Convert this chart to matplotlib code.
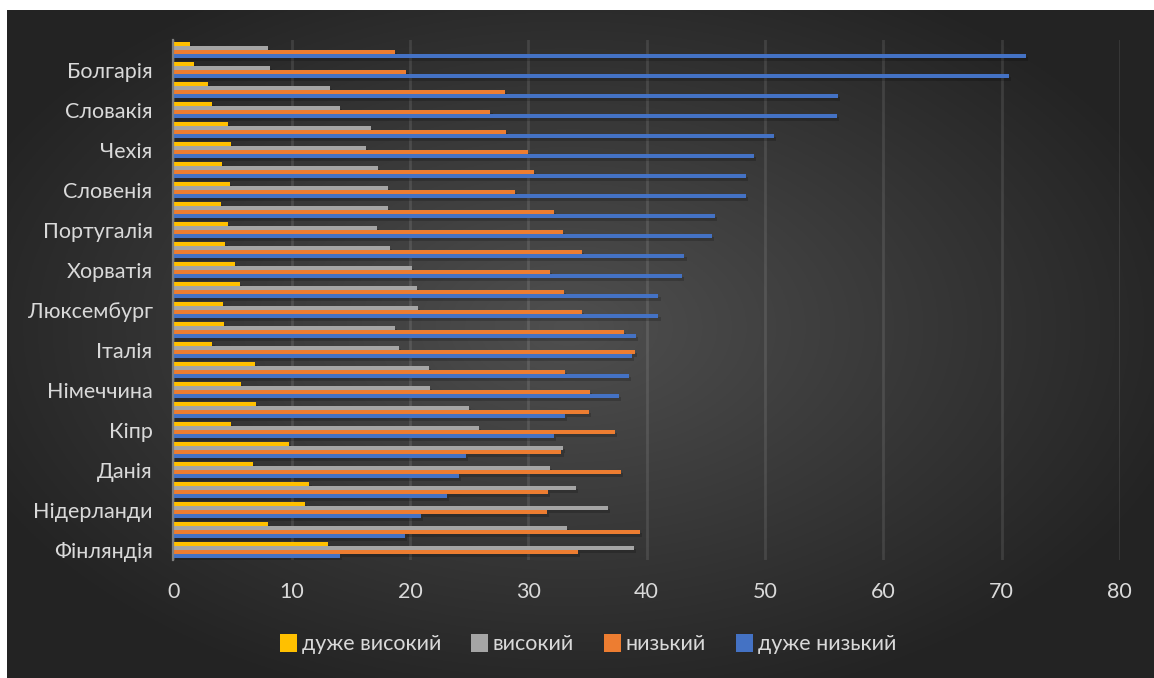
import numpy as np
import matplotlib.pyplot as plt
import matplotlib.patheffects as pe
from matplotlib.patches import Patch

plt.rcParams['font.family'] = ['Lato', 'DejaVu Sans']

# countries from bottom to top of the chart
countries = ['Фінляндія', 'Швеція', 'Нідерланди', 'Естонія', 'Данія', 'Бельгія',
             'Кіпр', 'Австрія', 'Німеччина', 'Франція', 'Італія', 'Мальта',
             'Люксембург', 'Іспанія', 'Хорватія', 'Литва', 'Португалія', 'Латвія',
             'Словенія', 'Польща', 'Чехія', 'Угорщина', 'Словакія', 'Греція',
             'Болгарія', 'Румунія']

very_high = [13.1, 8.0, 11.1, 11.5, 6.7, 9.8, 4.9, 7.0, 5.7, 6.9, 3.3, 4.3,
             4.2, 5.6, 5.2, 4.4, 4.6, 4.0, 4.8, 4.1, 4.9, 4.6, 3.3, 2.9, 1.7, 1.4]
high = [38.9, 33.3, 36.7, 34.0, 31.8, 32.9, 25.8, 25.0, 21.7, 21.6, 19.1, 18.7,
        20.7, 20.6, 20.2, 18.3, 17.2, 18.1, 18.1, 17.3, 16.3, 16.7, 14.1, 13.2, 8.2, 8.0]
low = [34.2, 39.4, 31.6, 31.7, 37.8, 32.8, 37.3, 35.1, 35.2, 33.1, 39.0, 38.1,
       34.5, 33.0, 31.8, 34.5, 32.9, 32.2, 28.9, 30.5, 30.0, 28.1, 26.8, 28.0, 19.7, 18.7]
very_low = [14.1, 19.6, 20.9, 23.1, 24.1, 24.7, 32.2, 33.1, 37.7, 38.5, 38.8, 39.1,
            41.0, 41.0, 43.0, 43.2, 45.5, 45.8, 48.4, 48.4, 49.1, 50.8, 56.1, 56.2, 70.6, 72.1]

series_names = ['дуже високий', 'високий', 'низький', 'дуже низький']
colors = ['#FFC000', '#A5A5A5', '#ED7D31', '#4472C4']

fig = plt.figure(figsize=(11.54, 6.78), dpi=100)
fig.patch.set_facecolor('white')

# dark background with a soft radial glow in the middle
bg = fig.add_axes([7 / 1154, 0, 1 - 7 / 1154, 1 - 10 / 678])
gx, gy = np.meshgrid(np.linspace(-1, 1, 600), np.linspace(-1, 1, 400))
r = np.sqrt(((gx + 0.02) / 1.05) ** 2 + ((gy + 0.05) / 1.1) ** 2)
shade = np.clip(0.31 - 0.16 * r, 0.14, 0.31)
bg.imshow(np.dstack([shade] * 3), aspect='auto', extent=[0, 1, 0, 1])
bg.axis('off')

ax = fig.add_axes([173.4 / 1154, 118 / 678, 946.4 / 1154, 520 / 678])
ax.set_facecolor('none')

y = np.arange(len(countries))
h = 0.2
offsets = [0.3, 0.1, -0.1, -0.3]
shadow = [pe.SimplePatchShadow(offset=(1.5, -2), shadow_rgbFace='black', alpha=0.18), pe.Normal()]

for vals, off, col, name in zip([very_high, high, low, very_low], offsets, colors, series_names):
    bars = ax.barh(y + off, vals, height=h, color=col, label=name, zorder=3)
    for b in bars:
        b.set_path_effects(shadow)

ax.set_xlim(0, 80)
ax.set_ylim(-0.5, len(countries) - 0.5)
ax.set_xticks(range(0, 81, 10))
ax.set_yticks(y[::2])
ax.set_yticklabels(countries[::2])

ax.grid(axis='x', color='white', alpha=0.1, linewidth=2, zorder=0)
ax.set_axisbelow(True)
for s in ['top', 'right', 'bottom']:
    ax.spines[s].set_visible(False)
ax.spines['left'].set_color('#7f7f7f')
ax.spines['left'].set_linewidth(1.6)
ax.spines['left'].set_zorder(4)
ax.tick_params(length=0, colors='#d9d9d9', labelsize=15.5)
ax.tick_params(axis='y', pad=15)
ax.tick_params(axis='x', pad=16)

handles = [Patch(facecolor=c, edgecolor='none') for c in colors]
fig.legend(handles, series_names, loc='center', bbox_to_anchor=(588 / 1154, 1 - 644 / 678),
           ncol=4, frameon=False, fontsize=15.5, labelcolor='#d9d9d9',
           handlelength=0.8, handleheight=0.9, handletextpad=0.2, columnspacing=1.4)

fig.savefig('out.png', dpi=100)
